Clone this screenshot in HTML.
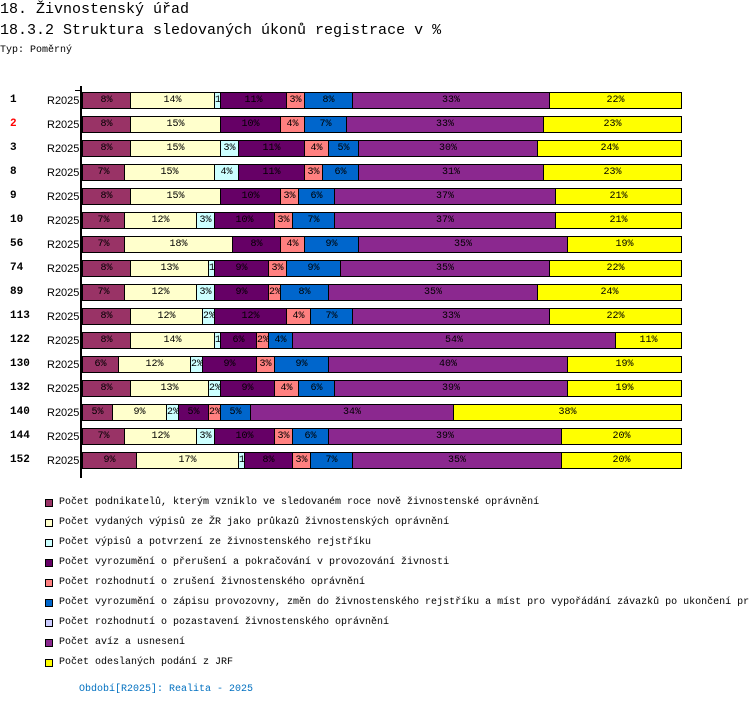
<!DOCTYPE html>
<html><head><meta charset="utf-8">
<style>
body{margin:0;width:750px;height:706px;background:#fff;position:relative;overflow:hidden;font-family:"Liberation Mono",monospace;color:#000}
.abs{position:absolute;white-space:nowrap}
.seg{position:absolute;box-sizing:border-box;border:1px solid #000;overflow:hidden;text-align:center;font-size:10px;line-height:16px;color:#000}
</style></head><body>
<div class="abs" style="left:0;top:1px;font-size:15px">18. Živnostenský úřad</div>
<div class="abs" style="left:0;top:22px;font-size:15px">18.3.2 Struktura sledovaných úkonů registrace v %</div>
<div class="abs" style="left:0;top:45px;font-size:10px">Typ: Poměrný</div>
<div id="chart"></div>
<div id="legend"></div>
<div class="abs" style="left:79px;top:682px;font-size:10px;color:#0070c0;margin-top:2px">Období[R2025]: Realita - 2025</div>
<script>
const categories=["1","2","3","8","9","10","56","74","89","113","122","130","132","140","144","152"];
const s1=[8,8,8,7,8,7,7,8,7,8,8,6,8,5,7,9];
const s2=[14,15,15,15,15,12,18,13,12,12,14,12,13,9,12,17];
const s3=[1,0,3,4,0,3,0,1,3,2,1,2,2,2,3,1];
const s4=[11,10,11,11,10,10,8,9,9,12,6,9,9,5,10,8];
const s5=[3,4,4,3,3,3,4,3,2,4,2,3,4,2,3,3];
const s6=[8,7,5,6,6,7,9,9,8,7,4,9,6,5,6,7];
const s7=[0,0,0,0,0,0,0,0,0,0,0,0,0,0,0,0];
const s8=[33,33,30,31,37,37,35,35,35,33,54,40,39,34,39,35];
const s9=[22,23,24,23,21,21,19,22,24,22,11,19,19,38,20,20];
const seriesNames=["Počet podnikatelů, kterým vzniklo ve sledovaném roce nově živnostenské oprávnění","Počet vydaných výpisů ze ŽR jako průkazů živnostenských oprávnění","Počet výpisů a potvrzení ze živnostenského rejstříku","Počet vyrozumění o přerušení a pokračování v provozování živnosti","Počet rozhodnutí o zrušení živnostenského oprávnění","Počet vyrozumění o zápisu provozovny, změn do živnostenského rejstříku a míst pro vypořádání závazků po ukončení pr","Počet rozhodnutí o pozastavení živnostenského oprávnění","Počet avíz a usnesení","Počet odeslaných podání z JRF"];
const colors=["#993366","#ffffcc","#ccffff","#660066","#ff8080","#0066cc","#ccccff","#8b288f","#ffff00"];
const series=[s1,s2,s3,s4,s5,s6,s7,s8,s9];
const X0=82,W=599,Y0=92,STEP=24,BH=17;
const xs=v=>X0+v/100*W;
const yRow=i=>Y0+i*STEP;
const chart=document.getElementById('chart');
const axis=document.createElement('div');
axis.className='abs';


axis.style.cssText='left:80px;top:86px;width:2px;height:392px;background:#000';
chart.appendChild(axis);
const tick=document.createElement('div');
tick.className='abs';


tick.style.cssText='left:75px;top:90px;width:6px;height:1px;background:#000';
chart.appendChild(tick);
categories.forEach((c,i)=>{
  const lab=document.createElement('div');
  lab.className='abs';
  
  
  lab.style.cssText=`left:10px;top:${yRow(i)+2}px;font-size:11px;font-weight:bold;color:${c==="2"?"#ff0000":"#000"}`;
  lab.textContent=c;
  chart.appendChild(lab);
  const per=document.createElement('div');
  per.className='abs';
  
  
  per.style.cssText=`left:47px;top:${yRow(i)+3}px;font-size:11px;font-family:"Liberation Sans",sans-serif`;
  per.textContent='R2025';
  chart.appendChild(per);
  const tot=series.reduce((a,s)=>a+s[i],0);
  let cum=0;
  series.forEach((s,k)=>{
    const v=s[i]/tot*100;
    if(v<=0)return;
    const x1=Math.round(xs(cum)),x2=Math.round(xs(cum+v));
    cum+=v;
    const seg=document.createElement('div');
    seg.className='seg';
    
    
    seg.style.left=x1+'px';seg.style.top=yRow(i)+'px';
    seg.style.width=(x2-x1+1)+'px';seg.style.height=BH+'px';
    seg.style.background=colors[k];
    seg.textContent=s[i]+'%';
    chart.appendChild(seg);
  });
});
const legend=document.getElementById('legend');
seriesNames.forEach((n,k)=>{
  const sw=document.createElement('div');
  sw.className='abs';
  
  
  sw.style.cssText=`left:45px;top:${499+k*20}px;width:6px;height:6px;border:1px solid #000;background:${colors[k]}`;
  legend.appendChild(sw);
  const t=document.createElement('div');
  t.className='abs';
  
  
  t.style.cssText=`left:59px;top:${497+k*20}px;font-size:10px`;
  t.textContent=n;
  legend.appendChild(t);
});
</script>
</body></html>
